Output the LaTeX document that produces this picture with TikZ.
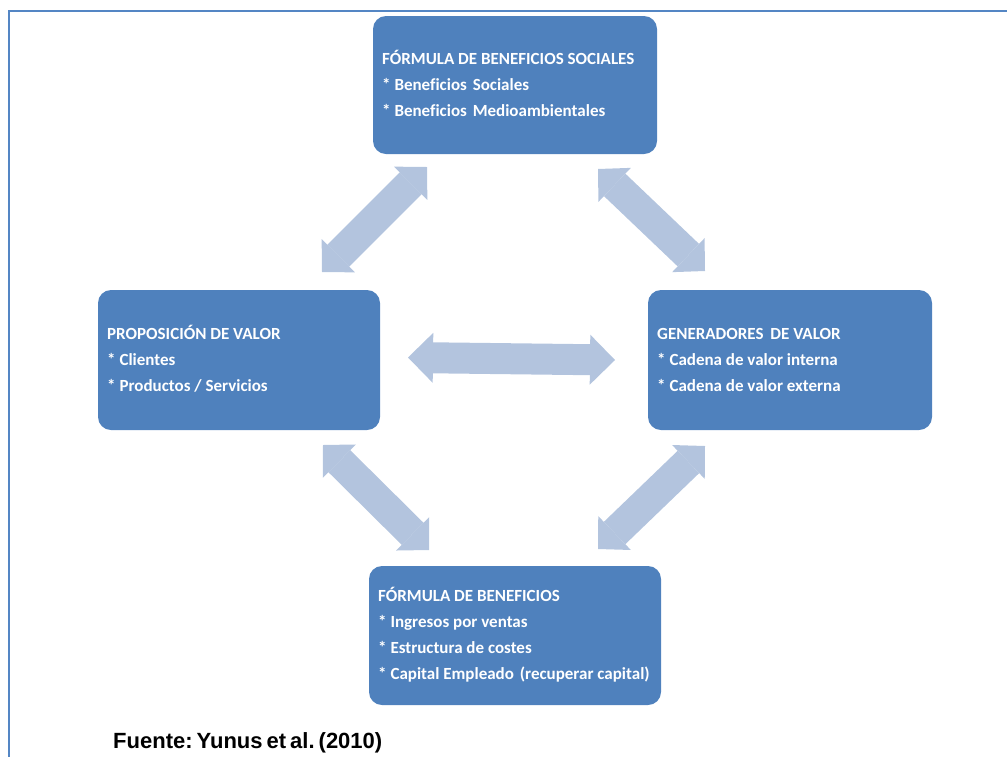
\documentclass[tikz,border=0pt]{standalone}
\usepackage{fontspec}
\newfontfamily\boxfont[Ligatures=NoCommon]{Carlito}
\newfontfamily\notefont{Liberation Sans}
\usetikzlibrary{arrows.meta}
\definecolor{boxblue}{RGB}{79,129,189}
\definecolor{linkblue}{RGB}{179,196,222}
\definecolor{framec}{RGB}{84,134,196}
\tikzset{
  diagtip/.tip={Triangle[length=23pt,width=47pt,line width=0pt]},
  flattip/.tip={Triangle[length=25pt,width=50pt,line width=0pt]},
}
\begin{document}
\begin{tikzpicture}[x=1pt,y=-1pt,
  block/.style={fill=boxblue, draw=none, rounded corners=13pt, inner sep=0pt},
  txt/.style={anchor=base west, inner sep=0pt, text=white,
              font=\boxfont\bfseries\fontsize{17}{20}\selectfont},
  link/.style={draw=linkblue, line width=31pt},
]
\useasboundingbox (0,0) rectangle (1007,756);
\clip (0,0) rectangle (1007,756);

% outer frame (only the top and left edges fall inside the page)
\draw[framec, line width=2pt] (9,790) -- (9,11) -- (1040,11);

% the four blocks
\node[block, minimum width=284pt, minimum height=138pt] (social) at (515,85) {};
\node[block, minimum width=282pt, minimum height=140pt] (prop) at (239,360) {};
\node[block, minimum width=284pt, minimum height=140pt] (gen) at (790,360) {};
\node[block, minimum width=292pt, minimum height=139pt] (profit) at (515,635.5) {};

% block texts
\node[txt] (social1) at (382,64) {FÓRMULA DE BENEFICIOS SOCIALES};
\node[txt] (social2) at (382,90) {* Beneficios\hspace{2pt} Sociales};
\node[txt] (social3) at (382,116) {* Beneficios\hspace{2pt} Medioambientales};

\node[txt] (prop1) at (107,339) {PROPOSICIÓN DE VALOR};
\node[txt] (prop2) at (107,365) {* Clientes};
\node[txt] (prop3) at (107,391) {* Productos / Servicios};

\node[txt] (gen1) at (657,339) {GENERADORES\hspace{3pt} DE VALOR};
\node[txt] (gen2) at (657,365) {* Cadena de valor interna};
\node[txt] (gen3) at (657,391) {* Cadena de valor externa};

\node[txt] (profit1) at (378,601) {FÓRMULA DE BENEFICIOS};
\node[txt] (profit2) at (378,627) {* Ingresos por ventas};
\node[txt] (profit3) at (378,653) {* Estructura de costes};
\node[txt] (profit4) at (378,679) {* Capital Empleado\hspace{2pt} (recuperar capital)};

% end points of the double arrows
\coordinate (a1s) at (322,272);  \coordinate (a1e) at (427,167);
\coordinate (a2s) at (598,169);  \coordinate (a2e) at (705,271);
\coordinate (a3s) at (323,445);  \coordinate (a3e) at (429,550);
\coordinate (a4s) at (705,446);  \coordinate (a4e) at (598,549);
\coordinate (hs) at (408,357.5); \coordinate (he) at (615,360);

% double arrows between the blocks
\draw[link, diagtip-diagtip] (a1s) -- (a1e);
\draw[link, diagtip-diagtip] (a2s) -- (a2e);
\draw[link, diagtip-diagtip] (a3s) -- (a3e);
\draw[link, diagtip-diagtip] (a4s) -- (a4e);
\draw[link, flattip-flattip] (hs) -- (he);

% source line
\node[anchor=base west, inner sep=0pt, font=\notefont\bfseries\fontsize{22}{26}\selectfont]
  (source) at (113,748) {Fuente:\hspace{4pt}Yunus\hspace{4pt}et\hspace{4pt}al.\hspace{4pt}(2010)};
\end{tikzpicture}
\end{document}
